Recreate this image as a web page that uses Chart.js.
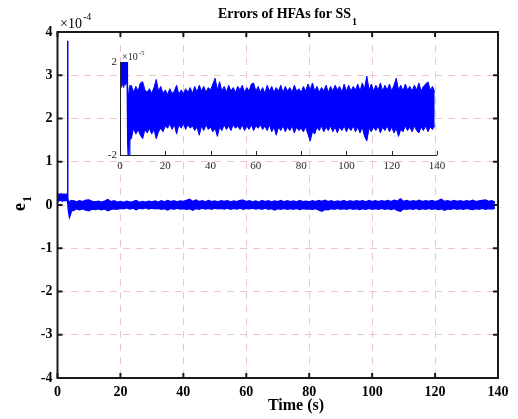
<!DOCTYPE html>
<html>
<head>
<meta charset="utf-8">
<title>Errors of HFAs for SS1</title>
<script src="https://cdn.jsdelivr.net/npm/chart.js@4.4.1/dist/chart.umd.min.js"></script>
<style>
	html, body { margin: 0; padding: 0; background: #fff; }
	#wrap { position: relative; width: 518px; height: 419px; }
	#wrap canvas { position: absolute; left: 0; top: 0; }
</style>
</head>
<body>
<div id="wrap">
	<canvas id="main" width="518" height="419"></canvas>
	<canvas id="inset" width="518" height="419"></canvas>
</div>
<script>
// e1 values are kept in units of 1e-5 (inset axis); the main axis shows 1e-4
const transT    = [0,   0.4, 0.8, 1.2, 1.6, 2.0, 2.4, 2.8, 3.1, 3.2, 3.3, 3.5,  3.8,  4.1,  4.4,  4.7];
const transHigh = [2.3, 2.5, 2.4, 2.6, 2.3, 2.5, 2.4, 2.5, 2.3, 38,  1.5, 0.8,  0.5,  0.9,  1.0,  0.85];
const transLow  = [1.1, 0.9, 1.2, 1.0, 0.9, 1.1, 1.0, 1.2, 1.0, 1.0, 0.5, -1.5, -2.8, -2.2, -1.4, -1.2];

// noise envelope, one sample per second from 5 s to 139 s
const bandStart = 5;
const bandHigh = [
	1.0, 0.7, 0.95, 0.75, 1.1, 1.15, 0.8, 0.7, 0.85, 0.65, 0.9, 1.25, 0.75, 0.95, 0.65, 0.8,          // 5-20
	0.6, 0.85, 0.65, 0.75, 1.0, 0.6, 0.8, 0.65, 0.85, 0.7, 0.9, 0.65, 0.95, 0.7, 1.0, 0.75, 0.95, 0.7, 0.9, 0.8, // 21-40
	1.05, 1.3, 0.8, 1.15, 0.75, 0.95, 0.7, 1.0, 0.75, 0.9, 0.7, 0.95, 0.8, 1.0, 0.7, 0.9, 0.75, 1.05, 1.1, 0.75, // 41-60
	0.95, 0.7, 0.9, 0.65, 1.0, 0.75, 0.95, 0.7, 0.9, 0.75, 1.0, 0.7, 0.95, 0.75, 0.9, 0.7, 1.0, 0.75, 0.85, 0.7, // 61-80
	0.95, 0.75, 1.05, 0.8, 1.1, 0.75, 0.95, 0.7, 0.9, 0.75, 1.0, 0.7, 0.95, 0.75, 1.0, 0.8, 0.95, 0.7, 1.05, 0.75, // 81-100
	1.0, 0.75, 0.95, 0.8, 1.05, 0.75, 1.1, 0.85, 1.4, 0.8, 1.05, 0.75, 1.0, 0.8, 1.1, 0.75, 1.0, 0.8, 1.05, 0.75, // 101-120
	1.0, 1.3, 0.8, 1.0, 0.75, 1.05, 0.8, 0.95, 0.75, 1.0, 0.8, 1.1, 0.75, 0.95, 1.05, 1.15, 0.8, 0.95, 0.7        // 121-139
];
const bandLow = [
	-1.3, -0.85, -1.1, -0.9, -1.15, -1.3, -0.9, -1.05, -0.85, -1.1, -0.9, -1.3, -1.0, -0.85, -1.0, -0.75,
	-0.85, -0.65, -0.9, -0.7, -1.1, -0.7, -0.85, -0.65, -0.9, -0.7, -0.85, -0.75, -0.95, -0.8, -1.15, -0.75, -0.95, -0.7, -0.9, -0.8,
	-1.0, -0.85, -1.2, -0.8, -0.95, -0.7, -0.9, -0.75, -0.95, -0.7, -0.85, -0.75, -0.9, -0.7, -0.95, -0.75, -0.9, -0.7, -0.95, -0.75,
	-0.85, -0.7, -0.9, -0.75, -0.95, -0.7, -1.0, -0.8, -1.15, -0.8, -0.95, -0.75, -1.0, -0.8, -0.95, -0.75, -1.05, -0.8, -0.95, -0.85,
	-1.0, -0.8, -1.1, -1.4, -1.0, -1.1, -0.8, -0.95, -0.75, -1.0, -0.8, -0.95, -0.75, -1.0, -0.8, -1.05, -0.8, -0.95, -0.75, -1.0,
	-0.8, -0.95, -0.75, -1.0, -0.8, -1.05, -0.8, -1.2, -1.4, -0.85, -1.0, -0.8, -0.95, -0.75, -1.05, -0.8, -0.95, -0.75, -1.0, -0.8,
	-1.05, -0.85, -1.2, -0.9, -1.0, -0.75, -0.95, -0.8, -1.0, -0.75, -0.95, -1.05, -0.8, -0.95, -0.75, -1.0, -0.8, -0.9, -0.75
];

const xTicks = [0, 20, 40, 60, 80, 100, 120, 140];
const mainYTicks = [-4, -3, -2, -1, 0, 1, 2, 3, 4];
const insetYTicks = [-2, 2];

(() => {
	const SERIF = '"Liberation Serif", "Times New Roman", serif';
	const BLUE = '#0000ff';
	const AXIS = '#1a1a1a';

	function series(high, scale) {
		const tr = high ? transHigh : transLow;
		const band = high ? bandHigh : bandLow;
		const pts = transT.map((t, i) => ({ x: t, y: tr[i] * scale }));
		band.forEach((v, i) => pts.push({ x: bandStart + i, y: v * scale }));
		return pts;
	}

	function datasets(scale, width) {
		return [
			{ data: series(true, scale), borderColor: BLUE, backgroundColor: BLUE, borderWidth: width, pointRadius: 0, fill: '+1', tension: 0 },
			{ data: series(false, scale), borderColor: BLUE, backgroundColor: BLUE, borderWidth: width, pointRadius: 0, fill: false, tension: 0 }
		];
	}

	// text with a sub/superscript
	function scriptText(ctx, base, small, x, y, size, smallSize, shift, weight) {
		ctx.font = `${weight} ${size}px ${SERIF}`;
		ctx.fillText(base, x, y);
		const w = ctx.measureText(base).width;
		ctx.font = `${weight} ${smallSize}px ${SERIF}`;
		ctx.fillText(small, x + w + 1, y + shift);
	}

	const mainDecor = {
		id: 'mainDecor',
		afterDraw(c) {
			const { ctx, chartArea: a } = c;
			const { x, y } = c.scales;
			ctx.save();
			ctx.strokeStyle = AXIS;
			ctx.lineWidth = 2;
			ctx.strokeRect(a.left, a.top, a.right - a.left, a.bottom - a.top);
			ctx.beginPath();
			xTicks.forEach(v => {
				const px = x.getPixelForValue(v);
				ctx.moveTo(px, a.bottom); ctx.lineTo(px, a.bottom - 5);
				ctx.moveTo(px, a.top); ctx.lineTo(px, a.top + 5);
			});
			mainYTicks.forEach(v => {
				const py = y.getPixelForValue(v);
				ctx.moveTo(a.left, py); ctx.lineTo(a.left + 5, py);
				ctx.moveTo(a.right, py); ctx.lineTo(a.right - 5, py);
			});
			ctx.stroke();

			ctx.fillStyle = '#000';
			ctx.textBaseline = 'alphabetic';
			ctx.textAlign = 'left';
			// title
			ctx.font = `bold 14px ${SERIF}`;
			const tw = ctx.measureText('Errors of HFAs for SS').width + 7;
			scriptText(ctx, 'Errors of HFAs for SS', '1', 288 - tw / 2, 18, 14, 10, 7, 'bold');
			// exponent
			scriptText(ctx, '\u00d710', '-4', 60, 28, 14, 10, -8, 'normal');
			// x title
			ctx.font = `bold 16px ${SERIF}`;
			ctx.textAlign = 'center';
			ctx.fillText('Time (s)', 296, 410);
			// y title
			ctx.textAlign = 'left';
			ctx.translate(25, 211);
			ctx.rotate(-Math.PI / 2);
			scriptText(ctx, 'e', '1', 0, 0, 18, 12, 6, 'bold');
			ctx.restore();
		}
	};

	new Chart(document.getElementById('main').getContext('2d'), {
		type: 'line',
		data: { datasets: datasets(0.1, 1.5) },
		options: {
			responsive: false,
			animation: false,
			layout: { padding: { left: 0, right: 20, top: 32, bottom: 0 } },
			plugins: { legend: { display: false }, tooltip: { enabled: false } },
			scales: {
				x: {
					type: 'linear', min: 0, max: 140,
					afterFit: s => { s.height = 41; },
					afterBuildTicks: s => { s.ticks = xTicks.map(v => ({ value: v })); },
					ticks: { font: { family: SERIF, size: 14, weight: 'bold' }, color: '#000', padding: 6, maxRotation: 0 },
					grid: { color: '#f0c4cc', lineWidth: 1, drawTicks: false },
					border: { display: false, dash: [7, 6] }
				},
				y: {
					type: 'linear', min: -4, max: 4,
					afterFit: s => { s.width = 57.5; },
					afterBuildTicks: s => { s.ticks = mainYTicks.map(v => ({ value: v })); },
					ticks: { font: { family: SERIF, size: 14, weight: 'bold' }, color: '#000', padding: 5 },
					grid: { color: '#f0c4cc', lineWidth: 1, drawTicks: false },
					border: { display: false, dash: [7, 6] }
				}
			}
		},
		plugins: [mainDecor]
	});

	const insetDecor = {
		id: 'insetDecor',
		afterDraw(c) {
			const { ctx, chartArea: a } = c;
			const { x, y } = c.scales;
			ctx.save();
			ctx.strokeStyle = '#262626';
			ctx.lineWidth = 1;
			ctx.beginPath();
			ctx.moveTo(a.left + 0.5, a.top);
			ctx.lineTo(a.left + 0.5, a.bottom + 0.5);
			ctx.lineTo(a.right, a.bottom + 0.5);
			xTicks.forEach(v => {
				const px = Math.round(x.getPixelForValue(v)) + 0.5;
				ctx.moveTo(px, a.bottom); ctx.lineTo(px, a.bottom - 4);
			});
			insetYTicks.forEach(v => {
				const py = Math.round(y.getPixelForValue(v)) + 0.5;
				ctx.moveTo(a.left, py); ctx.lineTo(a.left + 4, py);
			});
			ctx.stroke();
			ctx.fillStyle = '#262626';
			ctx.textBaseline = 'alphabetic';
			ctx.textAlign = 'left';
			scriptText(ctx, '\u00d710', '-5', 122, 60, 10, 7, -5, 'normal');
			ctx.restore();
		}
	};

	new Chart(document.getElementById('inset').getContext('2d'), {
		type: 'line',
		data: { datasets: datasets(1, 1) },
		options: {
			responsive: false,
			animation: false,
			layout: { padding: { left: 0, right: 81, top: 62, bottom: 0 } },
			plugins: { legend: { display: false }, tooltip: { enabled: false } },
			scales: {
				x: {
					type: 'linear', min: 0, max: 140,
					afterFit: s => { s.height = 264; },
					afterBuildTicks: s => { s.ticks = xTicks.map(v => ({ value: v })); },
					ticks: { font: { family: SERIF, size: 11 }, color: '#262626', padding: 5, maxRotation: 0 },
					grid: { display: false, drawTicks: false },
					border: { display: false }
				},
				y: {
					type: 'linear', min: -2, max: 2,
					afterFit: s => { s.width = 120; },
					afterBuildTicks: s => { s.ticks = insetYTicks.map(v => ({ value: v })); },
					ticks: { font: { family: SERIF, size: 11 }, color: '#262626', padding: 3 },
					grid: { display: false, drawTicks: false },
					border: { display: false }
				}
			}
		},
		plugins: [insetDecor]
	});
})();
</script>
</body>
</html>
